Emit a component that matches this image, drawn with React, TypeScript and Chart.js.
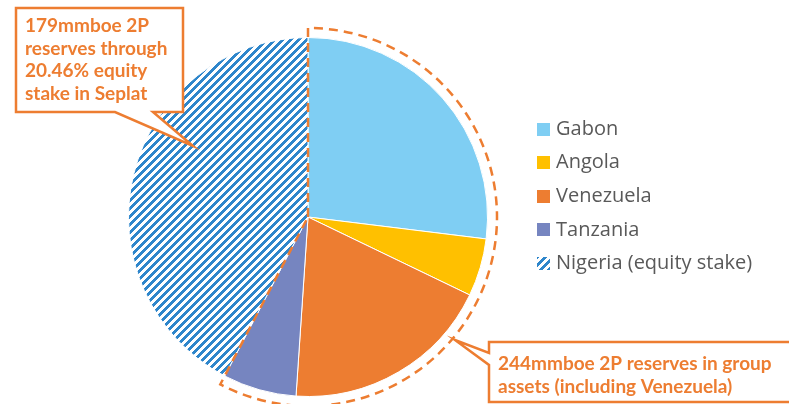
import React, { useEffect, useRef } from "react";
import { Chart, registerables } from "chart.js";

Chart.register(...registerables);

// ---- data ----
const labels = ["Gabon", "Angola", "Venezuela", "Tanzania", "Nigeria (equity stake)"];
const reserves = [114, 22, 80, 28, 179];
const sliceColors = ["#7FCEF3", "#FFC000", "#ED7D31", "#7685C0"];
const hatchColor = "#2E86CB";
const nigeriaNote = ["179mmboe 2P", "reserves through", "20.46% equity", "stake in Seplat"];
const groupNote = ["244mmboe 2P reserves in group", "assets (including Venezuela)"];
const groupSliceCount = 4;

const ORANGE = "#ED7D31";
const NOTE_FONT = "Lato, 'Noto Sans', sans-serif";
const LEGEND_FONT = "'Open Sans', 'Noto Sans', sans-serif";

function makeHatch(): CanvasPattern | string {
  const c = document.createElement("canvas");
  c.width = 8;
  c.height = 8;
  const x = c.getContext("2d");
  if (!x) return hatchColor;
  x.fillStyle = "#ffffff";
  x.fillRect(0, 0, 8, 8);
  x.fillStyle = hatchColor;
  for (let i = 0; i < 8; i++) {
    for (let j = 0; j < 8; j++) {
      if ((i + j) % 8 < 4) x.fillRect(i, j, 1, 1);
    }
  }
  return x.createPattern(c, "repeat") || hatchColor;
}

export default function App() {
  const ref = useRef<HTMLCanvasElement | null>(null);

  useEffect(() => {
    if (!ref.current) return;
    const hatch = makeHatch();
    const colors: any[] = [...sliceColors, hatch];

    const overlay = {
      id: "overlay",
      afterDraw(chart: any) {
        const ctx: CanvasRenderingContext2D = chart.ctx;
        const arcs = chart.getDatasetMeta(0).data as any[];
        const first = arcs[0];
        const last = arcs[groupSliceCount - 1];
        const cx = first.x;
        const cy = first.y;
        const r = first.outerRadius + 9.5;

        ctx.save();
        // dashed outline around group assets
        ctx.strokeStyle = ORANGE;
        ctx.lineWidth = 2.5;
        ctx.setLineDash([9, 6]);
        ctx.beginPath();
        ctx.moveTo(cx, cy);
        ctx.arc(cx, cy, r, first.startAngle, last.endAngle);
        ctx.closePath();
        ctx.stroke();
        ctx.setLineDash([]);

        // callout 1
        ctx.lineJoin = "miter";
        ctx.beginPath();
        ctx.moveTo(16, 8);
        ctx.lineTo(183, 8);
        ctx.lineTo(183, 112);
        ctx.lineTo(153, 112);
        ctx.lineTo(193, 146);
        ctx.lineTo(115, 112);
        ctx.lineTo(16, 112);
        ctx.closePath();
        ctx.fillStyle = "#ffffff";
        ctx.fill();
        ctx.stroke();

        ctx.fillStyle = ORANGE;
        ctx.font = `bold 19px ${NOTE_FONT}`;
        ctx.textBaseline = "alphabetic";
        ctx.textAlign = "left";
        nigeriaNote.forEach((t, i) => ctx.fillText(t, 25, 32 + i * 22.5));

        // callout 2
        ctx.beginPath();
        ctx.moveTo(489, 342);
        ctx.lineTo(800, 342);
        ctx.lineTo(800, 402);
        ctx.lineTo(489, 402);
        ctx.lineTo(489, 365);
        ctx.lineTo(455, 340);
        ctx.lineTo(489, 353);
        ctx.closePath();
        ctx.fillStyle = "#ffffff";
        ctx.fill();
        ctx.stroke();
        ctx.fillStyle = ORANGE;
        groupNote.forEach((t, i) => ctx.fillText(t, 498, 370 + i * 22.5));

        // legend
        ctx.font = `20px ${LEGEND_FONT}`;
        ctx.textBaseline = "middle";
        labels.forEach((lab, i) => {
          const y = 129 + i * 33.6;
          ctx.fillStyle = colors[i];
          ctx.fillRect(537, Math.round(y - 6.5), 13, 13);
          ctx.fillStyle = "#595959";
          ctx.fillText(lab, 556, y);
        });
        ctx.restore();
      },
    };

    const chart = new Chart(ref.current, {
      type: "pie",
      data: {
        labels,
        datasets: [
          {
            data: reserves,
            backgroundColor: colors,
            borderColor: "#ffffff",
            borderWidth: 1,
            hoverOffset: 0,
          },
        ],
      },
      options: {
        responsive: false,
        animation: false,
        devicePixelRatio: 1,
        layout: { padding: { left: 128, right: 301, top: 37, bottom: 7 } },
        plugins: {
          legend: { display: false },
          tooltip: { enabled: false },
        },
      },
      plugins: [overlay],
    });
    return () => chart.destroy();
  }, []);

  return (
    <div style={{ position: "absolute", left: 0, top: 0, width: 789, height: 404, background: "#fff" }}>
      <canvas ref={ref} width={789} height={404} style={{ display: "block" }} />
    </div>
  );
}
